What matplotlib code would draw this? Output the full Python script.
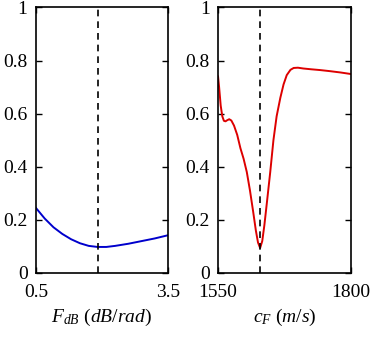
import matplotlib
matplotlib.use("Agg")
import matplotlib.pyplot as plt
import numpy as np

plt.rcParams['font.family'] = ['Liberation Serif']
plt.rcParams['mathtext.fontset'] = 'custom'
plt.rcParams['mathtext.rm'] = 'Liberation Serif'
plt.rcParams['mathtext.it'] = 'Liberation Serif:italic'

# Left panel data
fdb_x = [0.5, 0.7, 0.9, 1.1, 1.3, 1.5, 1.7, 1.9, 2.1, 2.3, 2.6, 2.9, 3.2, 3.5]
fdb_y = [0.245, 0.205, 0.172, 0.147, 0.127, 0.112, 0.102, 0.098, 0.098, 0.102, 0.110, 0.120, 0.130, 0.142]
fdb_opt = 1.9

# Right panel data
cf_x = [1550, 1552, 1555, 1558, 1561, 1564, 1567, 1571, 1575, 1580, 1586, 1592, 1598, 1604, 1610,
        1616, 1621, 1625, 1629, 1633, 1637, 1642, 1648, 1654, 1660, 1667, 1673, 1679, 1686,
        1692, 1700, 1710, 1725, 1742, 1760, 1780, 1800]
cf_y = [0.74, 0.70, 0.63, 0.59, 0.573, 0.571, 0.575, 0.579, 0.574, 0.555, 0.52, 0.47, 0.43, 0.38, 0.31,
        0.23, 0.16, 0.115, 0.094, 0.12, 0.18, 0.27, 0.38, 0.50, 0.59, 0.66, 0.71, 0.745, 0.765,
        0.772, 0.773, 0.770, 0.767, 0.764, 0.76, 0.755, 0.749]
cf_opt = 1628

fig = plt.figure(figsize=(3.74, 3.37), dpi=100)
ax1 = fig.add_axes([0.096, 0.19, 0.353, 0.788])
ax2 = fig.add_axes([0.583, 0.19, 0.356, 0.788])

for ax in (ax1, ax2):
    ax.set_ylim(0, 1)
    ax.set_yticks([0, 0.2, 0.4, 0.6, 0.8, 1])
    ax.set_yticklabels(['0', '0.2', '0.4', '0.6', '0.8', '1'])
    ax.tick_params(direction='in', top=True, right=True, labelsize=14, width=1, length=4)
    ax.tick_params(axis='y', pad=6)
    ax.tick_params(axis='x', pad=8)
    for s in ax.spines.values():
        s.set_linewidth(1.2)

ax1.plot(fdb_x, fdb_y, color='#0000cc', lw=1.4)
ax1.axvline(fdb_opt, color='black', ls='--', lw=1.2, dashes=(4, 3))
ax1.set_xlim(0.5, 3.5)
ax1.set_xticks([0.5, 3.5])
ax1.set_xticklabels(['0.5', '3.5'])
ax1.set_xlabel(r'$F_{dB}$ $(dB/rad)$', fontsize=14, labelpad=4)

ax2.plot(cf_x, cf_y, color='#dd0000', lw=1.4)
ax2.axvline(cf_opt, color='black', ls='--', lw=1.2, dashes=(4, 3))
ax2.set_xlim(1550, 1800)
ax2.set_xticks([1550, 1800])
ax2.set_xticklabels(['1550', '1800'])
ax2.set_xlabel(r'$c_F$ $(m/s)$', fontsize=14, labelpad=4)

fig.savefig('out.png', dpi=100)
